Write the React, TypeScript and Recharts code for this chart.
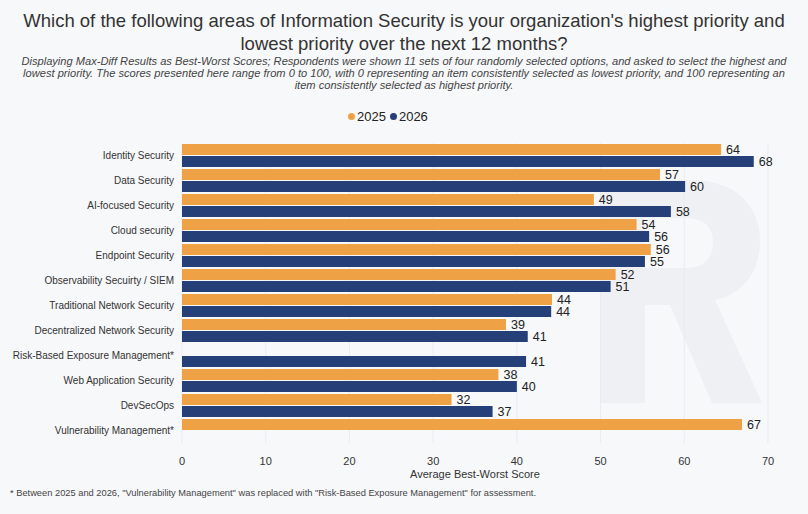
import { Bar, BarChart, CartesianGrid, LabelList, XAxis, YAxis } from "recharts";

const areas = [
	"Identity Security",
	"Data Security",
	"AI-focused Security",
	"Cloud security",
	"Endpoint Security",
	"Observability Secuirty / SIEM",
	"Traditional Network Security",
	"Decentralized Network Security",
	"Risk-Based Exposure Management*",
	"Web Application Security",
	"DevSecOps",
	"Vulnerability Management*",
];

const scores2025 = [64.4, 57.1, 49.2, 54.3, 56.0, 51.8, 44.2, 38.7, null, 37.8, 32.2, 66.9];
const scores2026 = [68.3, 60.1, 58.4, 55.8, 55.3, 51.2, 44.1, 41.3, 41.1, 40.0, 37.1, null];

const xTicks = [0, 10, 20, 30, 40, 50, 60, 70];

const data = areas.map((name, i) => ({ name, y2025: scores2025[i], y2026: scores2026[i] }));

const ORANGE = "#efa145";
const BLUE = "#253f78";
const FONT = "'Liberation Sans', Arial, Helvetica, sans-serif";

const fmt = (v: any) => (v === null || v === undefined ? "" : String(Math.round(Number(v))));

// plain text tick so long names stay on one line
const AreaTick = (props: any) => {
	const { x, y, payload } = props;
	return (
		<text x={x} y={y} dy={3} textAnchor="end" fontSize={10} fill="#333" fontFamily={FONT}>
			{payload.value}
		</text>
	);
};

export default function App() {
	return (
		<div
			style={{
				position: "absolute",
				left: 0,
				top: 0,
				width: 808,
				height: 514,
				background: "#f7f8fa",
				fontFamily: FONT,
				color: "#333",
				overflow: "hidden",
			}}
		>
			{/* faint watermark logo behind the plot */}
			<svg width={808} height={514} style={{ position: "absolute", left: 0, top: 0 }}>
				<path
					fill="#eff0f4"
					fillRule="evenodd"
					d="M600,180 L690,180 C740,180 760,210 760,240 C760,275 740,295 715,300 L762,403 L712,403 L670,305 L645,305 L645,403 L600,403 Z M645,218 L685,218 C705,218 713,228 713,242 C713,258 705,268 685,268 L645,268 Z"
				/>
			</svg>
			<div style={{ position: "absolute", top: 9, width: 808, textAlign: "center", fontSize: 18.5, lineHeight: "23px", color: "#333" }}>
				Which of the following areas of Information Security is your organization's highest priority and
				<br />
				lowest priority over the next 12 months?
			</div>
			<div
				style={{
					position: "absolute",
					top: 55,
					width: 808,
					textAlign: "center",
					fontSize: 11.1,
					fontStyle: "italic",
					lineHeight: "12px",
					color: "#444",
					whiteSpace: "nowrap",
				}}
			>
				Displaying Max-Diff Results as Best-Worst Scores; Respondents were shown 11 sets of four randomly selected options, and asked to select the highest and
				<br />
				lowest priority. The scores presented here range from 0 to 100, with 0 representing an item consistently selected as lowest priority, and 100 representing an
				<br />
				item consistently selected as highest priority.
			</div>
			<div
				style={{
					position: "absolute",
					top: 109,
					left: 348,
					display: "flex",
					fontSize: 13,
					color: "#222",
				}}
			>
				<span style={{ display: "flex", alignItems: "center", marginRight: 4 }}>
					<span style={{ width: 7, height: 7, borderRadius: 4, background: ORANGE, marginRight: 2 }} />
					2025
				</span>
				<span style={{ display: "flex", alignItems: "center" }}>
					<span style={{ width: 7, height: 7, borderRadius: 4, background: BLUE, marginRight: 2 }} />
					2026
				</span>
			</div>
			<div style={{ position: "absolute", left: 0, top: 0 }}>
				<BarChart
					width={808}
					height={514}
					data={data}
					layout="vertical"
					margin={{ top: 143, right: 40, bottom: 31, left: 0 }}
					barCategoryGap="4%"
					barGap={1}
				>
					<CartesianGrid horizontal={false} stroke="#e9ebef" />
					<XAxis
						type="number"
						domain={[0, 70]}
						ticks={xTicks}
						axisLine={false}
						tickLine={false}
						tickMargin={8}
						height={40}
						tick={{ fontSize: 11, fill: "#333", fontFamily: FONT }}
						label={{ value: "Average Best-Worst Score", position: "insideBottom", offset: 5, fontSize: 11, fill: "#333", fontFamily: FONT }}
					/>
					<YAxis type="category" dataKey="name" width={182} axisLine={false} tickLine={false} interval={0} tick={<AreaTick />} />
					<Bar dataKey="y2025" fill={ORANGE} isAnimationActive={false}>
						<LabelList dataKey="y2025" position="right" offset={5} formatter={fmt} style={{ fontSize: 12.5, fill: "#222", fontFamily: FONT }} />
					</Bar>
					<Bar dataKey="y2026" fill={BLUE} isAnimationActive={false}>
						<LabelList dataKey="y2026" position="right" offset={5} formatter={fmt} style={{ fontSize: 12.5, fill: "#222", fontFamily: FONT }} />
					</Bar>
				</BarChart>
			</div>
			<div style={{ position: "absolute", left: 10, top: 488, fontSize: 9.3, color: "#444" }}>
				* Between 2025 and 2026, "Vulnerability Management" was replaced with "Risk-Based Exposure Management" for assessment.
			</div>
		</div>
	);
}
